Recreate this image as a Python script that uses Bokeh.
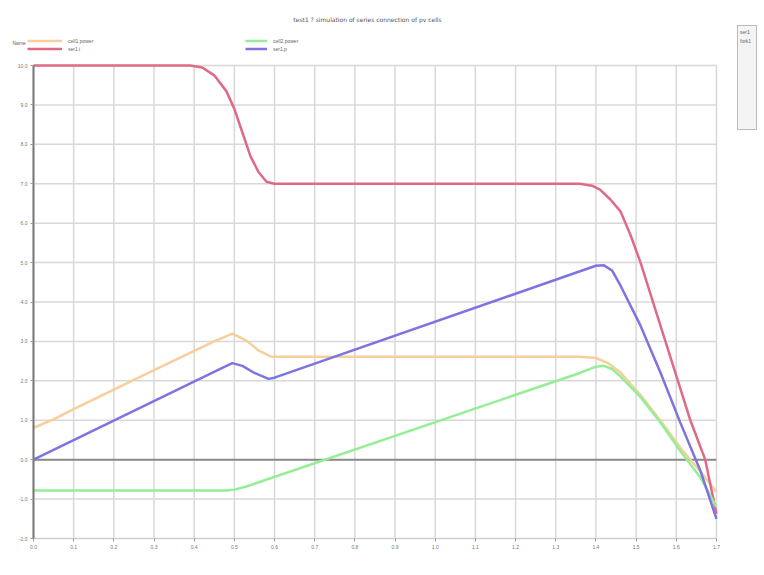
from bokeh.plotting import figure
from bokeh.models import Legend, LegendItem, FixedTicker, Div, PrintfTickFormatter, Label
from bokeh.layouts import row
from bokeh.embed import file_html
from bokeh.resources import INLINE

title_text = "test1 ? simulation of series connection of pv cells"

# red series (current of series connection)
red_x = [0.0, 0.39, 0.42, 0.45, 0.48, 0.50, 0.52, 0.54, 0.56, 0.58, 0.60, 1.36, 1.39, 1.41,
         1.436, 1.461, 1.486, 1.511, 1.573, 1.635, 1.672, 1.70]
red_y = [10.0, 10.0, 9.95, 9.75, 9.35, 8.9, 8.3, 7.7, 7.3, 7.05, 7.0, 7.0, 6.95, 6.85,
         6.6, 6.3, 5.7, 5.0, 3.0, 1.0, 0.0, -1.37]

# blue series
blue_x = [0.0, 0.47, 0.495, 0.52, 0.55, 0.585, 0.60, 1.38, 1.40, 1.42, 1.44, 1.461, 1.511,
          1.561, 1.610, 1.660, 1.70]
blue_y = [0.0, 2.33, 2.45, 2.38, 2.2, 2.05, 2.08, 4.85, 4.92, 4.93, 4.8, 4.42, 3.4,
          2.2, 0.94, -0.28, -1.5]

# orange series
orange_x = [0.0, 0.05, 0.10, 0.20, 0.30, 0.40, 0.45, 0.495, 0.53, 0.56, 0.59, 0.62, 1.36,
            1.40, 1.43, 1.46, 1.51, 1.56, 1.61, 1.66, 1.70]
orange_y = [0.81, 1.02, 1.28, 1.78, 2.27, 2.76, 3.0, 3.2, 3.02, 2.77, 2.62, 2.61, 2.61,
            2.58, 2.45, 2.22, 1.65, 1.0, 0.3, -0.3, -0.82]

# green series
green_x = [0.0, 0.48, 0.50, 0.53, 1.36, 1.40, 1.42, 1.44, 1.46, 1.51, 1.56, 1.61, 1.66, 1.70]
green_y = [-0.78, -0.78, -0.76, -0.68, 2.2, 2.36, 2.38, 2.3, 2.12, 1.6, 0.95, 0.22, -0.45, -1.2]

x_ticks = [round(0.1 * i, 1) for i in range(18)]
y_ticks = [float(v) for v in range(-2, 11)]

names = ["cell1.power", "ser1.i", "cell2.power", "ser1.p"]
legend_title = "Name"
colors = ["#f6cf9c", "#e06a86", "#95ee95", "#7d74e2"]

# frame extends a little around the data area to hold the legend row and tick labels
p = figure(frame_width=714, frame_height=522, output_backend="svg", toolbar_location=None,
           x_range=(-0.0572, 1.72), y_range=(-2.355, 10.888),
           min_border_left=10, min_border_right=6, min_border_top=30, min_border_bottom=15,
           title=title_text)
p.title.align = "center"
p.title.text_font_size = "6px"
p.title.text_font_style = "normal"
p.title.text_color = "#555555"
p.title.text_font = "DejaVu Sans"
p.title.standoff = 15
p.outline_line_color = None
p.background_fill_color = "white"
p.border_fill_color = "white"

# grid drawn from tick arrays, bounded to the data area
p.xgrid.visible = False
p.ygrid.visible = False
p.segment(x0=x_ticks, y0=[y_ticks[0]] * len(x_ticks), x1=x_ticks, y1=[y_ticks[-1]] * len(x_ticks),
          line_color="#d8d8d8", line_width=1.5)
p.segment(x0=[x_ticks[0]] * len(y_ticks), y0=y_ticks, x1=[x_ticks[-1]] * len(y_ticks), y1=y_ticks,
          line_color="#d8d8d8", line_width=1.5)
# zero line
p.segment(x0=[x_ticks[0]], y0=[0.0], x1=[x_ticks[-1]], y1=[0.0], line_color="#8a8a8a", line_width=2)

r_or = p.line(orange_x, orange_y, line_color=colors[0], line_width=2.5)
r_re = p.line(red_x, red_y, line_color=colors[1], line_width=2.5)
r_gr = p.line(green_x, green_y, line_color=colors[2], line_width=2.5)
r_bl = p.line(blue_x, blue_y, line_color=colors[3], line_width=2.5)

p.xaxis.ticker = FixedTicker(ticks=x_ticks)
p.yaxis.ticker = FixedTicker(ticks=y_ticks)
p.xaxis.formatter = PrintfTickFormatter(format="%.1f")
p.yaxis.formatter = PrintfTickFormatter(format="%.1f")
p.xaxis.bounds = (x_ticks[0], x_ticks[-1])
p.yaxis.bounds = (y_ticks[0], y_ticks[-1])
p.yaxis.fixed_location = x_ticks[0]
p.xaxis.fixed_location = y_ticks[0]
for ax in (p.xaxis, p.yaxis):
    ax.major_label_text_font_size = "5px"
    ax.major_label_text_color = "#777777"
    ax.minor_tick_line_color = None
    ax.major_tick_line_color = "#999999"
    ax.major_tick_in = 0
    ax.major_tick_out = 3
    ax.major_label_standoff = 3
p.yaxis.axis_line_color = "#777777"
p.yaxis.axis_line_width = 2
p.xaxis.axis_line_color = "#cccccc"

def make_legend(items, loc, gw):
    lg = Legend(items=items, location=loc)
    lg.label_text_font_size = "5px"
    lg.label_text_color = "#666666"
    lg.label_height = 7
    lg.glyph_height = 7
    lg.glyph_width = gw
    lg.label_standoff = 6
    lg.spacing = 1
    lg.padding = 0
    lg.margin = 0
    lg.border_line_color = None
    lg.background_fill_alpha = 0
    return lg

leg1 = make_legend([LegendItem(label=names[0], renderers=[r_or]),
                    LegendItem(label=names[1], renderers=[r_re])], (17, 500), 35)
leg2 = make_legend([LegendItem(label=names[2], renderers=[r_gr]),
                    LegendItem(label=names[3], renderers=[r_bl])], (235, 500), 22)
p.add_layout(leg1, "center")
p.add_layout(leg2, "center")
p.add_layout(Label(x=2, y=510, x_units="screen", y_units="screen", text=legend_title,
                   text_font_size="5px", text_color="#666666", text_baseline="middle"))

side = Div(text="<div style='font-size:5px;color:#666;line-height:9px;padding:2px;'>ser1<br>fork1</div>",
           width=20, height=105,
           styles={"border": "1px solid #bbbbbb", "background-color": "#f4f4f4",
                   "margin-top": "25px", "margin-left": "7px"})

layout = row(p, side)
open("out.html", "w").write(file_html(layout, INLINE))
